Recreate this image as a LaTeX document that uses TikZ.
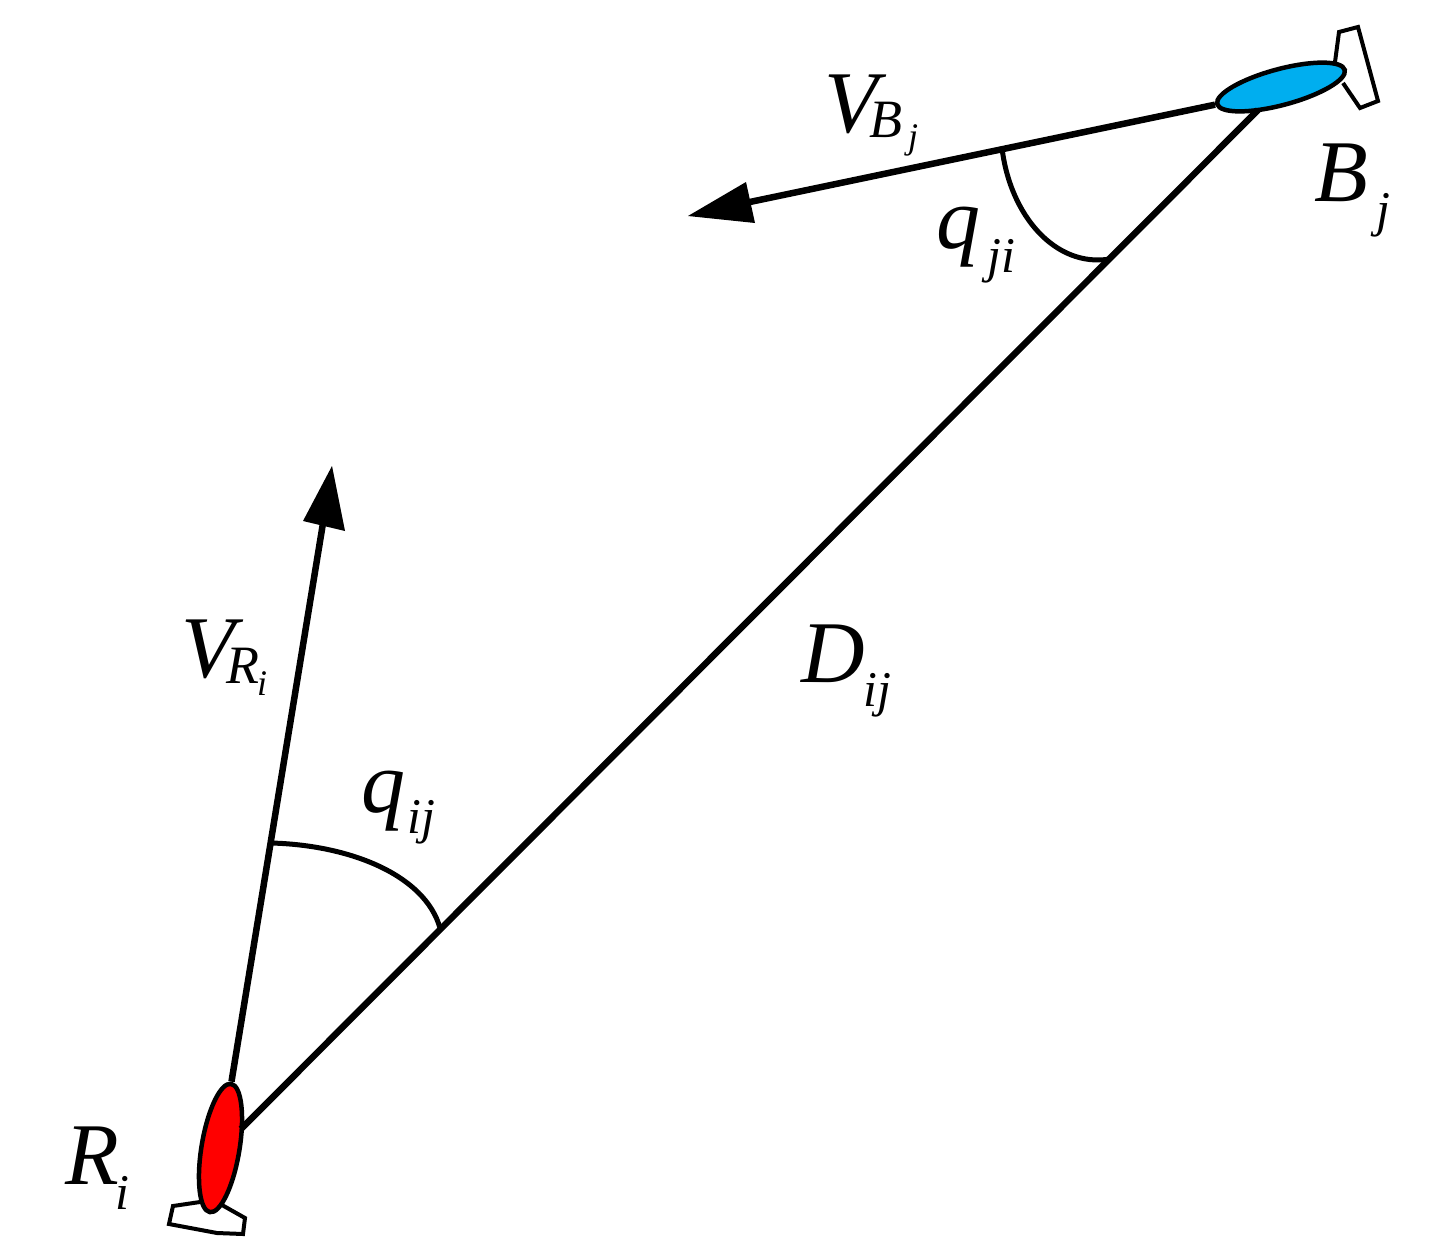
\documentclass[tikz,border=0pt]{standalone}
\usepackage{fontspec}
\setmainfont{Liberation Serif}
\usetikzlibrary{shapes.geometric}
\tikzset{
  x=1pt,y=-1pt,
  conn/.style={draw=black,line width=6.5pt},
  thinarc/.style={draw=black,line width=5pt},
  bodyshape/.style={draw=black,line width=4.5pt,ellipse,minimum width=132pt,minimum height=36pt,inner sep=0pt},
  tail/.style={draw=black,line width=4pt,fill=white,line join=miter},
  head/.style={fill=black,draw=none},
  big/.style={anchor=base west,inner sep=0pt,font=\fontsize{88}{88}\selectfont\itshape},
  mid/.style={anchor=base west,inner sep=0pt,font=\fontsize{54}{54}\selectfont\itshape},
  sub/.style={anchor=base west,inner sep=0pt,font=\fontsize{50}{50}\selectfont\itshape},
  small/.style={anchor=base west,inner sep=0pt,font=\fontsize{36}{36}\selectfont\itshape}
}
\definecolor{bodyblue}{RGB}{0,174,239}
\begin{document}
\begin{tikzpicture}
\useasboundingbox (0,0) rectangle (1437,1255);
% tails
\draw[tail] (1335,62) -- (1339,32) -- (1358,27) -- (1378,101) -- (1360,108) -- (1343,83);
\draw[tail] (200,1202) -- (173,1206) -- (169,1224) -- (217,1233) -- (243,1234) -- (245,1218) -- (222,1205);
% bodies
\node[bodyshape,fill=bodyblue,rotate=15] (blue) at (1281,87) {};
\node[bodyshape,fill=red,rotate=80.6,minimum width=130pt,minimum height=38pt] (red) at (220.5,1148) {};
% arrow tips
\coordinate (tipR) at (332,466);
\coordinate (tipB) at (688,216);
\coordinate (arcAa) at (271,843);
\coordinate (arcAb) at (440,928);
\coordinate (arcBa) at (1002,148);
\coordinate (arcBb) at (1110,259);
% connectors
\draw[conn] (red.east) -- (324,517);
\draw[conn] (blue.west) -- (745,203);
\draw[conn] (241,1129) -- (1258,110);
\fill[head] (tipR) -- (303,521) -- (345,531) -- cycle;
\fill[head] (tipB) -- (746,182) -- (755,223) -- cycle;
% arcs
\draw[thinarc] (arcAa) .. controls (350,845) and (425,875) .. (arcAb);
\draw[thinarc] (arcBa) .. controls (1010,215) and (1055,268) .. (arcBb);
% labels
\node[big] (vb) at (824,132) {V};
\node[mid] (vbs) at (869,137) {B};
\node[small] (vbss) at (908,148) {j};
\node[big] (qji) at (936,248) {q};
\node[sub] (qjis) at (987,272) {ji};
\node[big] (bj) at (1314,201) {B};
\node[sub] (bjs) at (1376,226) {j};
\node[big] (vr) at (181,677) {V};
\node[mid] (vrs) at (226,683) {R};
\node[small] (vrss) at (257,695) {i};
\node[big] (qij) at (361,812) {q};
\node[sub] (qijs) at (407,833) {ij};
\node[big] (dij) at (801,682) {D};
\node[sub] (dijs) at (863,706) {ij};
\node[big] (ri) at (65,1184) {R};
\node[sub] (ris) at (115,1209) {i};
\end{tikzpicture}
\end{document}
